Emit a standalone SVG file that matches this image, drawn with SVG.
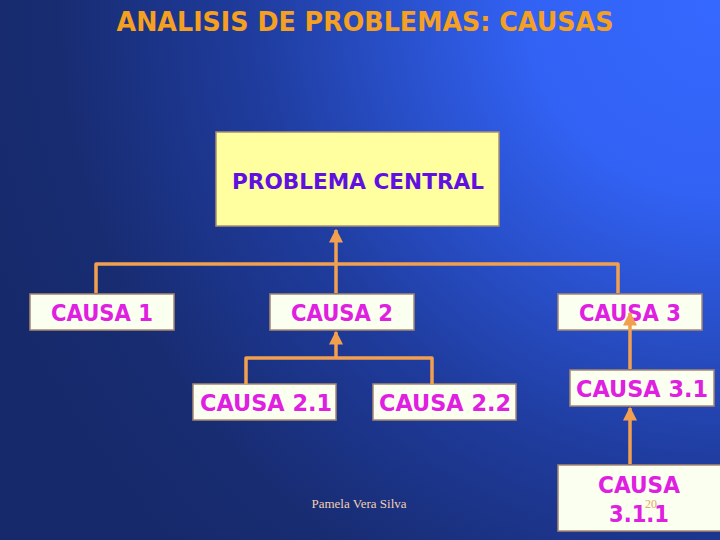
<svg xmlns="http://www.w3.org/2000/svg" width="720" height="540" viewBox="0 0 720 540">
<defs>
<radialGradient id="bg" gradientUnits="userSpaceOnUse" cx="720" cy="0" r="780">
<stop offset="0" stop-color="#3568ff"/>
<stop offset="0.25" stop-color="#3262f4"/>
<stop offset="0.6" stop-color="#1f3c9e"/>
<stop offset="0.85" stop-color="#182c72"/>
<stop offset="1" stop-color="#16296a"/>
</radialGradient>
<marker id="ah" viewBox="0 0 10 10" refX="9" refY="5" markerWidth="4" markerHeight="4" orient="auto" markerUnits="strokeWidth">
<path d="M0,0 L10,5 L0,10 z" fill="#f2a050"/>
</marker>
<style>
.box{fill:#fbfff0;stroke:#a88870;stroke-width:1.5}
.lbl{font-family:"DejaVu Sans",Verdana,sans-serif;font-weight:bold;font-size:23px;fill:#e020e0;text-anchor:middle}
.con{fill:none;stroke:#f2a050;stroke-width:3.5;stroke-linejoin:round}
</style>
</defs>
<rect x="0" y="0" width="720" height="540" fill="url(#bg)"/>
<text x="365" y="31" text-anchor="middle" font-family="'DejaVu Sans',Verdana,sans-serif" font-weight="bold" font-size="26" fill="#f5a020" textLength="497" lengthAdjust="spacingAndGlyphs">ANALISIS DE PROBLEMAS: CAUSAS</text>

<g id="problema">
<rect x="216" y="132" width="283" height="94" fill="#ffffa0" stroke="#a89070" stroke-width="1.5"/>
<text x="358" y="189" text-anchor="middle" font-family="'DejaVu Sans',Verdana,sans-serif" font-weight="bold" font-size="22" fill="#6010e0" textLength="252" lengthAdjust="spacingAndGlyphs">PROBLEMA CENTRAL</text>
</g>
<g id="causa1">
<rect class="box" x="30" y="294" width="144" height="36"/>
<text class="lbl" x="102" y="321" textLength="102" lengthAdjust="spacingAndGlyphs">CAUSA 1</text>
</g>
<g id="causa2">
<rect class="box" x="270" y="294" width="144" height="36"/>
<text class="lbl" x="342" y="321" textLength="102" lengthAdjust="spacingAndGlyphs">CAUSA 2</text>
</g>
<g id="causa3">
<rect class="box" x="558" y="294" width="144" height="36"/>
<text class="lbl" x="630" y="321" textLength="102" lengthAdjust="spacingAndGlyphs">CAUSA 3</text>
</g>
<g id="causa21">
<rect class="box" x="193" y="384" width="143" height="36"/>
<text class="lbl" x="266" y="411" textLength="132" lengthAdjust="spacingAndGlyphs">CAUSA 2.1</text>
</g>
<g id="causa22">
<rect class="box" x="373" y="384" width="143" height="36"/>
<text class="lbl" x="445" y="411" textLength="132" lengthAdjust="spacingAndGlyphs">CAUSA 2.2</text>
</g>
<g id="causa31">
<rect class="box" x="570" y="370" width="144" height="36"/>
<text class="lbl" x="642" y="397" textLength="132" lengthAdjust="spacingAndGlyphs">CAUSA 3.1</text>
</g>
<g id="causa311">
<rect class="box" x="558" y="465" width="165" height="66"/>
<text class="lbl" x="639" y="493" textLength="82" lengthAdjust="spacingAndGlyphs">CAUSA</text>
<text class="lbl" x="639" y="522" textLength="60" lengthAdjust="spacingAndGlyphs">3.1.1</text>
</g>

<g id="connectors">
<path class="con" d="M96,293 V264 H618 V293"/>
<path class="con" d="M336,293 V230" marker-end="url(#ah)"/>
<path class="con" d="M246,384 V358 H432 V384"/>
<path class="con" d="M336,358 V332" marker-end="url(#ah)"/>
<path class="con" d="M630,369 V313" marker-end="url(#ah)"/>
<path class="con" d="M630,464 V408" marker-end="url(#ah)"/>
</g>

<text x="359" y="508" text-anchor="middle" font-family="'Liberation Serif','Times New Roman',serif" font-size="13" fill="#f0d0b0">Pamela Vera Silva</text>
<text x="651" y="508" text-anchor="middle" font-family="'Liberation Serif','Times New Roman',serif" font-size="12" fill="#e0a860">20</text>
</svg>
